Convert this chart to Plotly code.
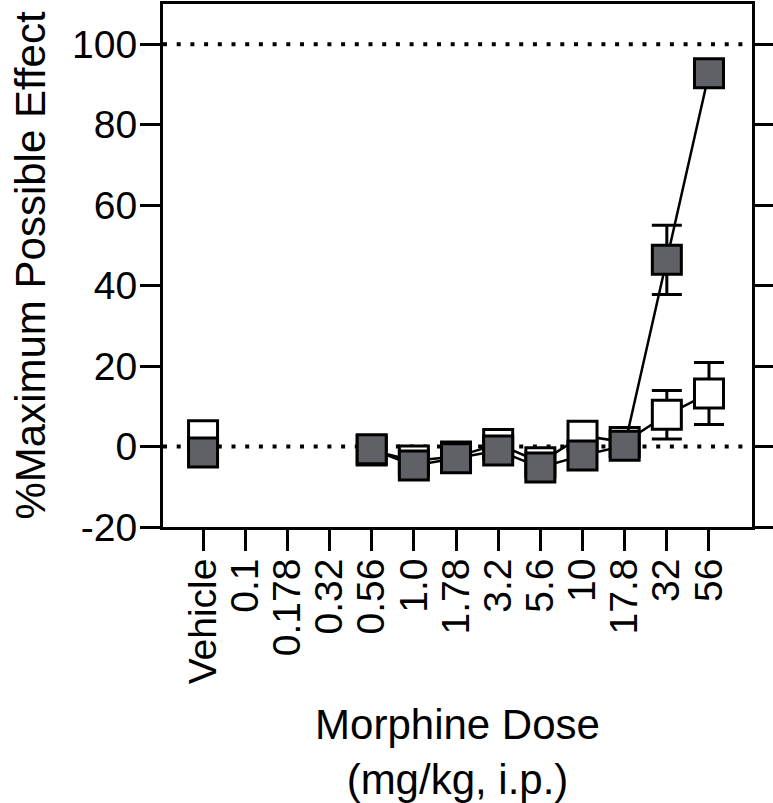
import plotly.graph_objects as go

doses = ["Vehicle", "0.1", "0.178", "0.32", "0.56", "1.0", "1.78", "3.2", "5.6", "10", "17.8", "32", "56"]

filled_mean = [-1.5, None, None, None, -0.7, -4.7, -2.9, -1.0, -5.2, -2.2, 0.2, 46.4, 92.8]
filled_sem = [2.0, None, None, None, 2.0, 1.5, 1.5, 2.0, 1.5, 2.0, 2.5, 8.6, 2.0]

open_mean = [2.8, None, None, None, -1.0, -3.5, -2.5, 0.6, -3.9, 2.7, 1.1, 7.9, 13.2]
open_sem = [1.5, None, None, None, 1.5, 1.2, 1.5, 1.5, 1.0, 1.5, 2.0, 6.0, 7.7]

ref_lines = [0, 100]
y_ticks = [-20, 0, 20, 40, 60, 80, 100]
y_tick_text = ["-20", "0", "20", "40", "60", "80", "100"]

FONT = "Liberation Sans, Arial, Helvetica, sans-serif"
GRAY = "#606067"

fig = go.Figure()

fig.add_trace(go.Scatter(
    x=doses, y=open_mean, mode="lines+markers", connectgaps=False,
    line=dict(color="black", width=2.5),
    marker=dict(symbol="square", size=29, color="white", line=dict(color="black", width=3)),
    error_y=dict(type="data", array=open_sem, color="black", thickness=3, width=15),
    showlegend=False, cliponaxis=False,
))
fig.add_trace(go.Scatter(
    x=doses, y=filled_mean, mode="lines+markers", connectgaps=False,
    line=dict(color="black", width=2.5),
    marker=dict(symbol="square", size=29, color=GRAY, line=dict(color="black", width=3)),
    error_y=dict(type="data", array=filled_sem, color="black", thickness=3, width=15),
    showlegend=False, cliponaxis=False,
))

for v in ref_lines:
    fig.add_shape(type="line", xref="paper", x0=0, x1=1, yref="y", y0=v, y1=v,
                  line=dict(color="black", width=4, dash="4px,9.7px"), layer="below")

fig.update_layout(
    width=773, height=803,
    margin=dict(l=163, r=21, t=4, b=276, autoexpand=False),
    plot_bgcolor="white", paper_bgcolor="white",
    font=dict(family=FONT, color="black"),
)

fig.update_xaxes(
    type="category", categoryorder="array", categoryarray=doses,
    tickmode="array", tickvals=doses, ticktext=doses,
    range=[-0.95, 13.02],
    showline=True, linecolor="black", linewidth=3, mirror=True,
    ticks="outside", ticklen=21, tickwidth=3, tickcolor="black",
    tickangle=-90, tickfont=dict(size=39, family=FONT, color="black"),
    ticklabelstandoff=-8,
    showgrid=False, zeroline=False,
    title=dict(text="Morphine Dose<br>(mg/kg, i.p.)", font=dict(size=42, family=FONT, color="black"), standoff=40),
    automargin=False,
)
fig.update_yaxes(
    range=[-20, 110], tickmode="array", tickvals=y_ticks, ticktext=y_tick_text,
    showline=True, linecolor="black", linewidth=3, mirror="ticks",
    ticks="outside", ticklen=20, tickwidth=3, tickcolor="black",
    tickfont=dict(size=39, family=FONT, color="black"),
    ticklabelstandoff=-5,
    showgrid=False, zeroline=False,
    title=dict(text="%Maximum Possible Effect", font=dict(size=42, family=FONT, color="black"), standoff=14),
    automargin=False,
)

fig.write_html("out.html", config={"displayModeBar": False},
               post_script="document.body.style.margin='0';")
